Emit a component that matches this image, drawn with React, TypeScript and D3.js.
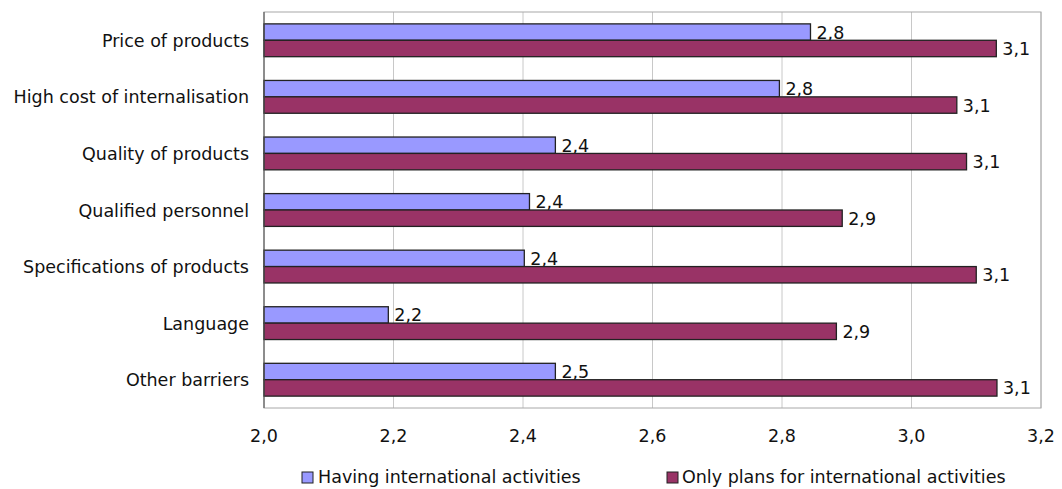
import React from 'react';
import * as d3 from 'd3';

const categories = [
  'Price of products',
  'High cost of internalisation',
  'Quality of products',
  'Qualified personnel',
  'Specifications of products',
  'Language',
  'Other barriers',
];
const having = [2.844, 2.796, 2.45, 2.41, 2.402, 2.192, 2.45];
const plans = [3.131, 3.07, 3.085, 2.893, 3.1, 2.884, 3.132];
const havingLabels = ['2,8', '2,8', '2,4', '2,4', '2,4', '2,2', '2,5'];
const plansLabels = ['3,1', '3,1', '3,1', '2,9', '3,1', '2,9', '3,1'];
const xTicks = [2.0, 2.2, 2.4, 2.6, 2.8, 3.0, 3.2];
const seriesNames = ['Having international activities', 'Only plans for international activities'];

const width = 1062;
const height = 489;
const margin = { top: 12, right: 21, bottom: 81, left: 264 };
const colors = ['#9999ff', '#993366'];
const font = 'Verdana, "DejaVu Sans", sans-serif';
const fs = 17.5;

export default function App() {
  const innerW = width - margin.left - margin.right;
  const innerH = height - margin.top - margin.bottom;

  const x = d3.scaleLinear().domain([2.0, 3.2]).range([0, innerW]);
  const y = d3.scaleBand<string>().domain(categories).range([0, innerH]).paddingInner(0.42).paddingOuter(0.21);
  const sub = d3.scaleBand<number>().domain([0, 1]).range([0, y.bandwidth()]);
  const fmt = (v: number) => d3.format('.1f')(v).replace('.', ',');

  const series = [having, plans];
  const labels = [havingLabels, plansLabels];

  return (
    <svg width={width} height={height} style={{ position: 'absolute', left: 0, top: 0, background: '#fff' }} fontFamily={font}>
      <g transform={`translate(${margin.left},${margin.top})`}>
        {xTicks.map((t) => (
          <line key={t} x1={x(t)} x2={x(t)} y1={0} y2={innerH} stroke="#c8c8c8" strokeWidth={1} />
        ))}
        <rect x={0} y={0} width={innerW} height={innerH} fill="none" stroke="#a8a8a8" strokeWidth={1} />
        {categories.map((c, i) => (
          <g key={c}>
            {series.map((s, k) => {
              const yy = (y(c) ?? 0) + (sub(k) ?? 0);
              const w = x(s[i]) - x(2.0);
              return (
                <g key={k}>
                  <rect x={0} y={yy} width={w} height={sub.bandwidth()} fill={colors[k]} stroke="#222" strokeWidth={1.3} />
                  <text x={w + 6} y={yy + sub.bandwidth() / 2 + 1.5} dominantBaseline="middle" fontSize={fs} fill="#111">
                    {labels[k][i]}
                  </text>
                </g>
              );
            })}
            <text x={-15} y={(y(c) ?? 0) + y.bandwidth() / 2 + 1.5} textAnchor="end" dominantBaseline="middle" fontSize={fs} fill="#111">
              {c}
            </text>
          </g>
        ))}
        <line x1={0} x2={0} y1={0} y2={innerH} stroke="#555" strokeWidth={1} />
        {xTicks.map((t) => (
          <text key={t} x={x(t)} y={innerH + 29} textAnchor="middle" dominantBaseline="middle" fontSize={fs} fill="#111">
            {fmt(t)}
          </text>
        ))}
      </g>
      <g transform="translate(302,478)">
        <rect x={0} y={-6} width={11} height={11} fill={colors[0]} stroke="#222" />
        <text x={16} y={0} dominantBaseline="middle" fontSize={fs} fill="#111">{seriesNames[0]}</text>
        <rect x={365} y={-6} width={11} height={11} fill={colors[1]} stroke="#222" />
        <text x={380} y={0} dominantBaseline="middle" fontSize={fs} fill="#111">{seriesNames[1]}</text>
      </g>
    </svg>
  );
}
